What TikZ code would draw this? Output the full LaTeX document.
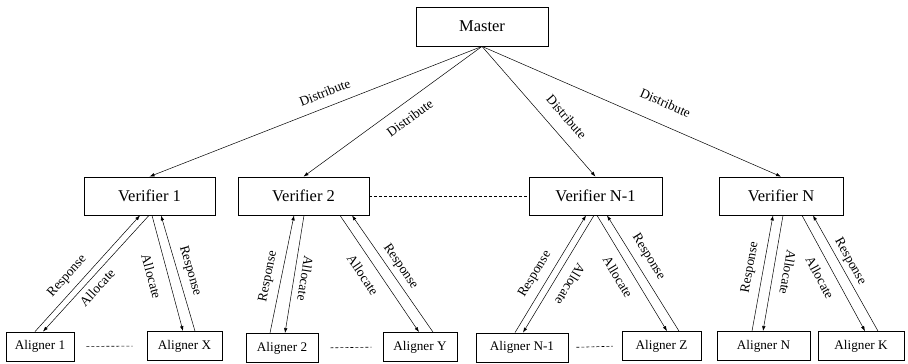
\documentclass[tikz,border=0pt]{standalone}
\usepackage{fontspec}
\setmainfont{Liberation Serif}
\usetikzlibrary{arrows.meta}
\tikzset{box/.style={draw, rectangle, line width=0.8pt, inner sep=0pt, minimum height=38pt, font=\fontsize{16.5}{18}\selectfont},
  abox/.style={draw, rectangle, line width=0.8pt, inner sep=0pt, minimum height=29pt, font=\fontsize{13.2}{15}\selectfont},
  lbl/.style={inner sep=0pt, font=\fontsize{13.4}{15}\selectfont},
  dots/.style={dash pattern=on 3pt off 2pt, line width=0.6pt}}

\begin{document}
\begin{tikzpicture}[x=1pt, y=-1pt, >={Latex[length=5pt,width=3.5pt]}, line width=0.5pt]
\useasboundingbox (0,0) rectangle (908,364);
% top and verifiers
\node[box, minimum width=132pt, minimum height=39pt] (M) at (482,26.5) {Master};
\node[box, minimum width=131pt] (V1) at (149.5,196) {Verifier 1};
\node[box, minimum width=131pt] (V2) at (303.5,196) {Verifier 2};
\node[box, minimum width=133pt] (VN1) at (595.5,196) {Verifier N-1};
\node[box, minimum width=124pt] (VN) at (781,196) {Verifier N};
% aligners
\node[abox, minimum width=68pt] (A1) at (40,346.5) {Aligner 1};
\node[abox, minimum width=75pt] (AX) at (184.5,346) {Aligner X};
\node[abox, minimum width=72pt] (A2) at (282,348) {Aligner 2};
\node[abox, minimum width=74pt] (AY) at (420,347) {Aligner Y};
\node[abox, minimum width=92pt] (AN1) at (522,347.5) {Aligner N-1};
\node[abox, minimum width=79pt] (AZ) at (661.5,346) {Aligner Z};
\node[abox, minimum width=93pt] (AN) at (763.5,346) {Aligner N};
\node[abox, minimum width=86pt] (AK) at (861,346) {Aligner K};

\draw[->] (M.south) -- (V1.north) node[lbl, pos=.457, sloped, above=9.4pt] {Distribute};
\draw[->] (M.south) -- (V2.north) node[lbl, pos=.455, sloped, below=10.4pt] {Distribute};
\draw[->] (M.south) -- (VN1.north) node[lbl, pos=.63, sloped, above=12.4pt] {Distribute};
\draw[->] (M.south) -- (VN.north) node[lbl, pos=.585, sloped, above=16.4pt] {Distribute};

\draw[dots] (V2.east) -- (VN1.west);
\draw[dots, shorten <=12pt, shorten >=14pt] (A1.east) -- (AX.west);
\draw[dots, shorten <=12pt, shorten >=11pt] (A2.east) -- (AY.west);
\draw[dots, shorten <=8pt, shorten >=9pt] (AN1.east) -- (AZ.west);

% verifier 1
\draw[->] ([xshift=-5pt]A1.north) -- ([xshift=-9.5pt]V1.south) node[lbl, pos=.40, sloped, above=7pt] {Response};
\draw[->] ([xshift=-0.5pt]V1.south) -- ([xshift=3pt]A1.north) node[lbl, pos=.56, sloped, below=5.4pt] {Allocate};
\draw[->] ([xshift=2.5pt]V1.south) -- ([xshift=-1.5pt]AX.north) node[lbl, pos=.49, sloped, below=11.4pt] {Allocate};
\draw[->] ([xshift=10.5pt]AX.north) -- ([xshift=11.5pt]V1.south) node[lbl, pos=.49, sloped, above=6pt] {Response};
% verifier 2
\draw[->] ([xshift=-12pt]A2.north) -- ([xshift=-9.5pt]V2.south) node[lbl, pos=.46, sloped, above=7pt] {Response};
\draw[->] ([xshift=.5pt]V2.south) -- ([xshift=3pt]A2.north) node[lbl, pos=.52, sloped, allow upside down, above=6.4pt] {Allocate};
\draw[->] ([xshift=36.5pt]V2.south) -- ([xshift=-1pt]AY.north) node[lbl, pos=.44, sloped, below=9.4pt] {Allocate};
\draw[->] ([xshift=13pt]AY.north) -- ([xshift=48.5pt]V2.south) node[lbl, pos=.51, sloped, above=4.5pt] {Response};
% verifier N-1
\draw[->] ([xshift=-7pt]AN1.north) -- ([xshift=-9.5pt]VN1.south) node[lbl, pos=.44, sloped, above=7pt] {Response};
\draw[->] ([xshift=-1.5pt]VN1.south) -- ([xshift=1pt]AN1.north) node[lbl, pos=.52, sloped, allow upside down, above=10.5pt] {Allocate};
\draw[->] ([xshift=1.5pt]VN1.south) -- ([xshift=5.5pt]AZ.north) node[lbl, pos=.47, sloped, below=9pt] {Allocate};
\draw[->] ([xshift=17.5pt]AZ.north) -- ([xshift=11.5pt]VN1.south) node[lbl, pos=.58, sloped, above=7pt] {Response};
% verifier N
\draw[->] ([xshift=-11.5pt]AN.north) -- ([xshift=-8pt]VN.south) node[lbl, pos=.53, sloped, above=7pt] {Response};
\draw[->] ([xshift=2pt]VN.south) -- ([xshift=-.5pt]AN.north) node[lbl, pos=.47, sloped, allow upside down, above=9.5pt] {Allocate};
\draw[->] ([xshift=21pt]VN.south) -- ([xshift=4pt]AK.north) node[lbl, pos=.48, sloped, below=9pt] {Allocate};
\draw[->] ([xshift=17pt]AK.north) -- ([xshift=32pt]VN.south) node[lbl, pos=.56, sloped, above=3.5pt] {Response};
\end{tikzpicture}
\end{document}
